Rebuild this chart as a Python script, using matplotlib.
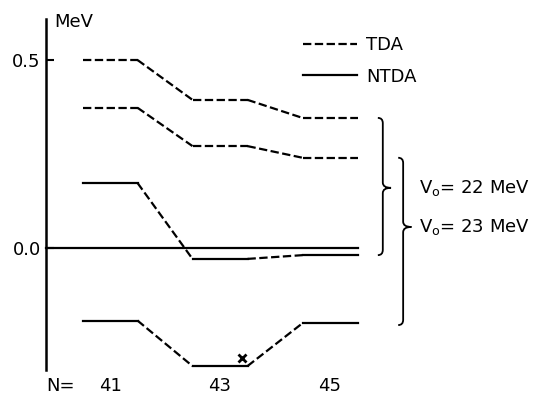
import matplotlib.pyplot as plt
from matplotlib.path import Path
from matplotlib.patches import PathPatch
from matplotlib.lines import Line2D

plt.rcParams['font.family'] = ['DejaVu Sans']
plt.rcParams['lines.scale_dashes'] = False

# neutron number
N = [41, 43, 45]

# level energies (MeV)
tda_a = [0.500, 0.394, 0.346]
tda_b = [0.373, 0.271, 0.240]
ntda_0 = [0.0, 0.0, 0.0]
ntda_c = [0.173, -0.029, -0.019]
ntda_d = [-0.193, -0.314, -0.200]

# marked experimental point
cross_N = 43.4
cross_E = -0.293

brace_labels = ['V$_\\mathregular{o}$= 22 MeV', 'V$_\\mathregular{o}$= 23 MeV']

DASH = (0, (6, 2.5))
LW = 1.6

fig = plt.figure(figsize=(5.36, 3.99), dpi=100)
ax = fig.add_axes([0, 26 / 399, 1, 373 / 399])
ax.set_xlim(39, 39 + 536 / 55)
ax.set_ylim(-125 / 376, 248 / 376)

axis_x = 39.84


def levels(E, level_ls, conn_ls):
    for n, e in zip(N, E):
        ax.plot([n - 0.5, n + 0.5], [e, e], color='black', lw=LW, linestyle=level_ls)
    for i in range(len(N) - 1):
        ax.plot([N[i] + 0.5, N[i + 1] - 0.5], [E[i], E[i + 1]],
                color='black', lw=LW, linestyle=conn_ls)


levels(tda_a, DASH, DASH)
levels(tda_b, DASH, DASH)
levels(ntda_c, '-', DASH)
levels(ntda_d, '-', DASH)
ax.plot([axis_x, N[-1] + 0.5], [ntda_0[0], ntda_0[-1]], color='black', lw=LW)

ax.plot(cross_N, cross_E, marker='x', color='black', ms=6, mew=2)


def brace(x, y_top, y_bot, y_tip, c=0.09, t=0.15, h=0.014):
    verts = [(x - c, y_top), (x, y_top), (x, y_top - h),
             (x, y_tip + h), (x, y_tip), (x + t, y_tip),
             (x, y_tip), (x, y_tip - h),
             (x, y_bot + h), (x, y_bot), (x - c, y_bot)]
    codes = [Path.MOVETO, Path.CURVE3, Path.CURVE3,
             Path.LINETO, Path.CURVE3, Path.CURVE3,
             Path.CURVE3, Path.CURVE3,
             Path.LINETO, Path.CURVE3, Path.CURVE3]
    ax.add_patch(PathPatch(Path(verts, codes), fill=False, lw=1.3, color='black'))


brace(45.96, tda_a[-1], ntda_c[-1], 0.160)
brace(46.33, tda_b[-1], ntda_d[-1] - 0.005, 0.056)
ax.text(46.62, 0.160, brace_labels[0], fontsize=13, va='center', ha='left')
ax.text(46.62, 0.056, brace_labels[1], fontsize=13, va='center', ha='left')

# axes styling
for s in ['top', 'right', 'bottom']:
    ax.spines[s].set_visible(False)
ax.spines['left'].set_position(('data', axis_x))
ax.spines['left'].set_bounds(-0.324, 0.609)
ax.spines['left'].set_linewidth(1.8)
ax.set_yticks([0.0, 0.5])
ax.set_yticklabels(['0.0', '0.5'])
ax.tick_params(axis='y', direction='in', length=6, width=1.5, pad=4, labelsize=13)
ax.set_xticks(N)
ax.set_xticklabels([str(n) for n in N])
ax.tick_params(axis='x', length=0, pad=3, labelsize=13)
ax.annotate('N=', xy=(40.1, 0), xycoords=('data', 'axes fraction'),
            xytext=(0, -3), textcoords='offset points',
            ha='center', va='top', fontsize=13)
ax.text(axis_x + 0.15, 0.600, 'MeV', fontsize=13, ha='left', va='center')

handles = [Line2D([], [], color='black', lw=LW, linestyle=DASH),
           Line2D([], [], color='black', lw=LW)]
ax.legend(handles, ['TDA', 'NTDA'], loc='upper left',
          bbox_to_anchor=(303 / 536, 1 - 36 / 373), frameon=False,
          fontsize=13, borderpad=0, borderaxespad=0, handlelength=3.0,
          handletextpad=0.5, labelspacing=0.75)

fig.savefig('out.png', dpi=100)
